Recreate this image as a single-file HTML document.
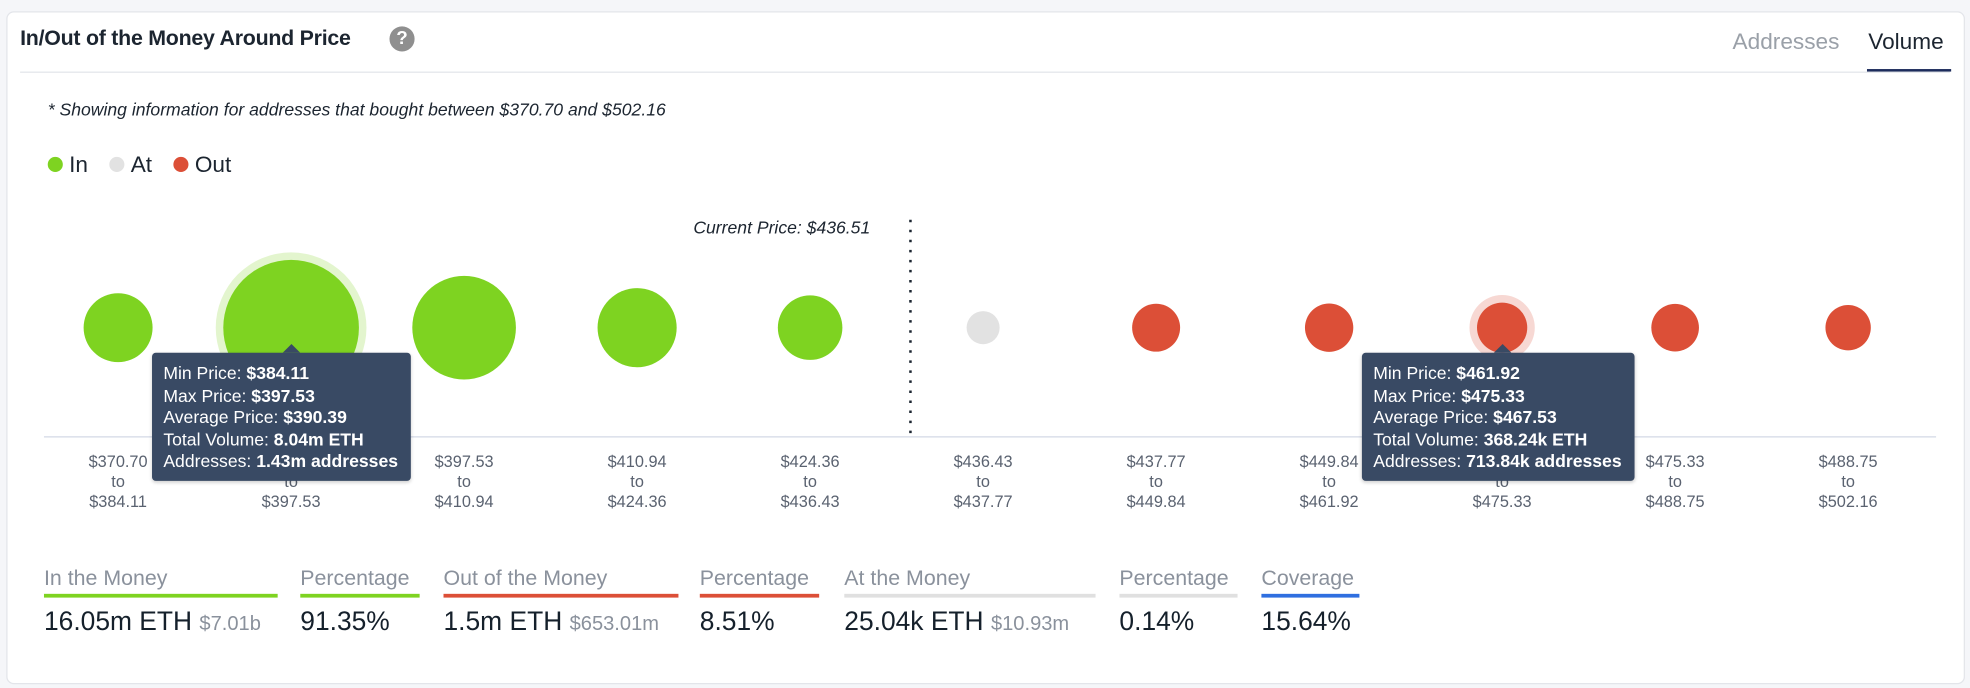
<!DOCTYPE html>
<html><head><meta charset="utf-8"><style>
html,body{margin:0;padding:0;width:1970px;height:688px;overflow:hidden;background:#f5f6f9;font-family:"Liberation Sans",sans-serif;}
#wrap{position:absolute;left:0;top:0;width:1568px;height:548px;transform-origin:0 0;transform:scale(1.25638,1.25547);}
.card{position:absolute;left:5px;top:9px;width:1557px;height:534px;background:#fff;border:1px solid #e3e5ea;border-radius:6px;}
.abs{position:absolute;white-space:nowrap;}
.lab{font-size:17px;color:#8a919c;}
.val{font-size:21px;color:#15202b;}
.sub{font-size:16px;color:#8a919c;}
.bar{position:absolute;height:3px;}
</style></head><body>
<div id="wrap">
<div class="card"></div>
<div class="abs" style="left:16px;top:21px;font-size:17px;font-weight:bold;color:#1c2530;letter-spacing:-0.2px">In/Out of the Money Around Price</div>
<div class="abs" style="left:310px;top:21px;width:20px;height:20px;border-radius:50%;background:#8f8f8f;color:#fff;font-weight:bold;font-size:15px;text-align:center;line-height:20px;">?</div>
<div class="abs" style="left:1379px;top:23px;font-size:18px;color:#9aa0a8;">Addresses</div>
<div class="abs" style="left:1487px;top:23px;font-size:18px;color:#1c2530;">Volume</div>
<div class="abs" style="left:16px;top:57px;width:1536px;height:1px;background:#e3e5ea;"></div>
<div class="abs" style="left:1486px;top:55px;width:67px;height:2px;background:#1d2c5c;"></div>
<div class="abs" style="left:38px;top:79px;font-size:14px;font-style:italic;color:#1c2530;">* Showing information for addresses that bought between $370.70 and $502.16</div>
<div class="abs" style="left:38px;top:121px;font-size:18px;color:#1c2530;">
<span><span style="display:inline-block;width:12px;height:12px;border-radius:50%;background:#7ed321;margin-right:5px"></span>In</span>
<span style="margin-left:12px"><span style="display:inline-block;width:12px;height:12px;border-radius:50%;background:#e2e2e2;margin-right:5px"></span>At</span>
<span style="margin-left:12px"><span style="display:inline-block;width:12px;height:12px;border-radius:50%;background:#dc4f37;margin-right:5px"></span>Out</span>
</div>
<svg id="chart" class="abs" style="left:0;top:0" width="1568" height="548"></svg>

<div class="abs lab" style="left:35px;top:451px">In the Money</div>
<div class="bar" style="left:35px;top:473px;width:186px;background:#7ed321"></div>
<div class="abs val" style="left:35px;top:484px">16.05m ETH <span class="sub">$7.01b</span></div>
<div class="abs lab" style="left:239px;top:451px">Percentage</div>
<div class="bar" style="left:239px;top:473px;width:95px;background:#7ed321"></div>
<div class="abs val" style="left:239px;top:484px">91.35%</div>
<div class="abs lab" style="left:353px;top:451px">Out of the Money</div>
<div class="bar" style="left:353px;top:473px;width:187px;background:#dc4f37"></div>
<div class="abs val" style="left:353px;top:484px">1.5m ETH <span class="sub">$653.01m</span></div>
<div class="abs lab" style="left:557px;top:451px">Percentage</div>
<div class="bar" style="left:557px;top:473px;width:95px;background:#dc4f37"></div>
<div class="abs val" style="left:557px;top:484px">8.51%</div>
<div class="abs lab" style="left:672px;top:451px">At the Money</div>
<div class="bar" style="left:672px;top:473px;width:200px;background:#e0e0e0"></div>
<div class="abs val" style="left:672px;top:484px">25.04k ETH <span class="sub">$10.93m</span></div>
<div class="abs lab" style="left:891px;top:451px">Percentage</div>
<div class="bar" style="left:891px;top:473px;width:94px;background:#e0e0e0"></div>
<div class="abs val" style="left:891px;top:484px">0.14%</div>
<div class="abs lab" style="left:1004px;top:451px">Coverage</div>
<div class="bar" style="left:1004px;top:473px;width:78px;background:#2f6fe0"></div>
<div class="abs val" style="left:1004px;top:484px">15.64%</div>
</div>
<script>
const bucketMins = ["$370.70","$384.11","$397.53","$410.94","$424.36","$436.43","$437.77","$449.84","$461.92","$475.33","$488.75"];
const bucketMaxs = ["$384.11","$397.53","$410.94","$424.36","$436.43","$437.77","$449.84","$461.92","$475.33","$488.75","$502.16"];
const volumesM = [1.2, 8.04, 4.0, 1.85, 0.96, 0.025, 0.3, 0.31, 0.368, 0.29, 0.23];
const status = ["in","in","in","in","in","at","out","out","out","out","out"];
const currentPrice = 436.51;
const colors={in:"#7ed321",at:"#e2e2e2",out:"#dc4f37"};
const NS="http://www.w3.org/2000/svg";
const svg=document.getElementById('chart');
const x0=94, step=137.7, cy=261;
const xPos=i=>x0+i*step;
const rScale=v=>10.74+15.25*Math.sqrt(v);
function mk(t,a){const e=document.createElementNS(NS,t);for(const k in a)e.setAttribute(k,a[k]);svg.appendChild(e);return e;}
const axis=mk('line',{x1:35,x2:1541,y1:348,y2:348,stroke:'#d3d8e6','stroke-width':1});


const cx=xPos(4)+(xPos(5)-xPos(4))*0.58;
const cl=mk('line',{x1:cx,x2:cx,y1:175,y2:348,stroke:'#1c2530','stroke-width':2,'stroke-dasharray':'2 6'});


const ct=mk('text',{x:cx-32,y:186,'text-anchor':'end','font-size':14,'font-style':'italic',fill:'#1c2530'});
ct.textContent='Current Price: $'+currentPrice.toFixed(2);


const hl=[1,8];
volumesM.forEach((v,i)=>{
  const r=rScale(v);
  if(hl.includes(i)){const h=mk('circle',{cx:xPos(i),cy:cy,r:r+6,fill:colors[status[i]],opacity:0.22});
    
    }
  const c=mk('circle',{cx:xPos(i),cy:cy,r:r,fill:colors[status[i]]});
  
  
  [bucketMins[i],'to',bucketMaxs[i]].forEach((s,j)=>{
    const t=mk('text',{x:xPos(i),y:372+j*16,'text-anchor':'middle','font-size':13,fill:'#5a6270'});
    t.textContent=s;
    
    
  });
});
const tipData=[
 {i:1,left:121,lines:[["Min Price: ","$384.11"],["Max Price: ","$397.53"],["Average Price: ","$390.39"],["Total Volume: ","8.04m ETH"],["Addresses: ","1.43m addresses"]]},
 {i:8,left:1084,lines:[["Min Price: ","$461.92"],["Max Price: ","$475.33"],["Average Price: ","$467.53"],["Total Volume: ","368.24k ETH"],["Addresses: ","713.84k addresses"]]}
];
const wrap=document.getElementById('wrap');
tipData.forEach(td=>{
  const d=document.createElement('div');
  
  
  d.className='abs';
  d.style.cssText='left:'+td.left+'px;top:281px;background:#394a64;border-radius:3px;padding:8px 10px 6px 9px;color:#fff;font-size:14px;line-height:17.5px;box-shadow:0 1px 3px rgba(0,0,0,.2)';
  d.innerHTML=td.lines.map(l=>l[0]+'<b>'+l[1]+'</b>').join('<br>');
  const a=document.createElement('div');
  a.style.cssText='position:absolute;top:-7px;left:'+(xPos(td.i)-td.left-7)+'px;width:0;height:0;border-left:7px solid transparent;border-right:7px solid transparent;border-bottom:7px solid #394a64';
  d.appendChild(a);
  wrap.appendChild(d);
});
</script>
</body></html>
